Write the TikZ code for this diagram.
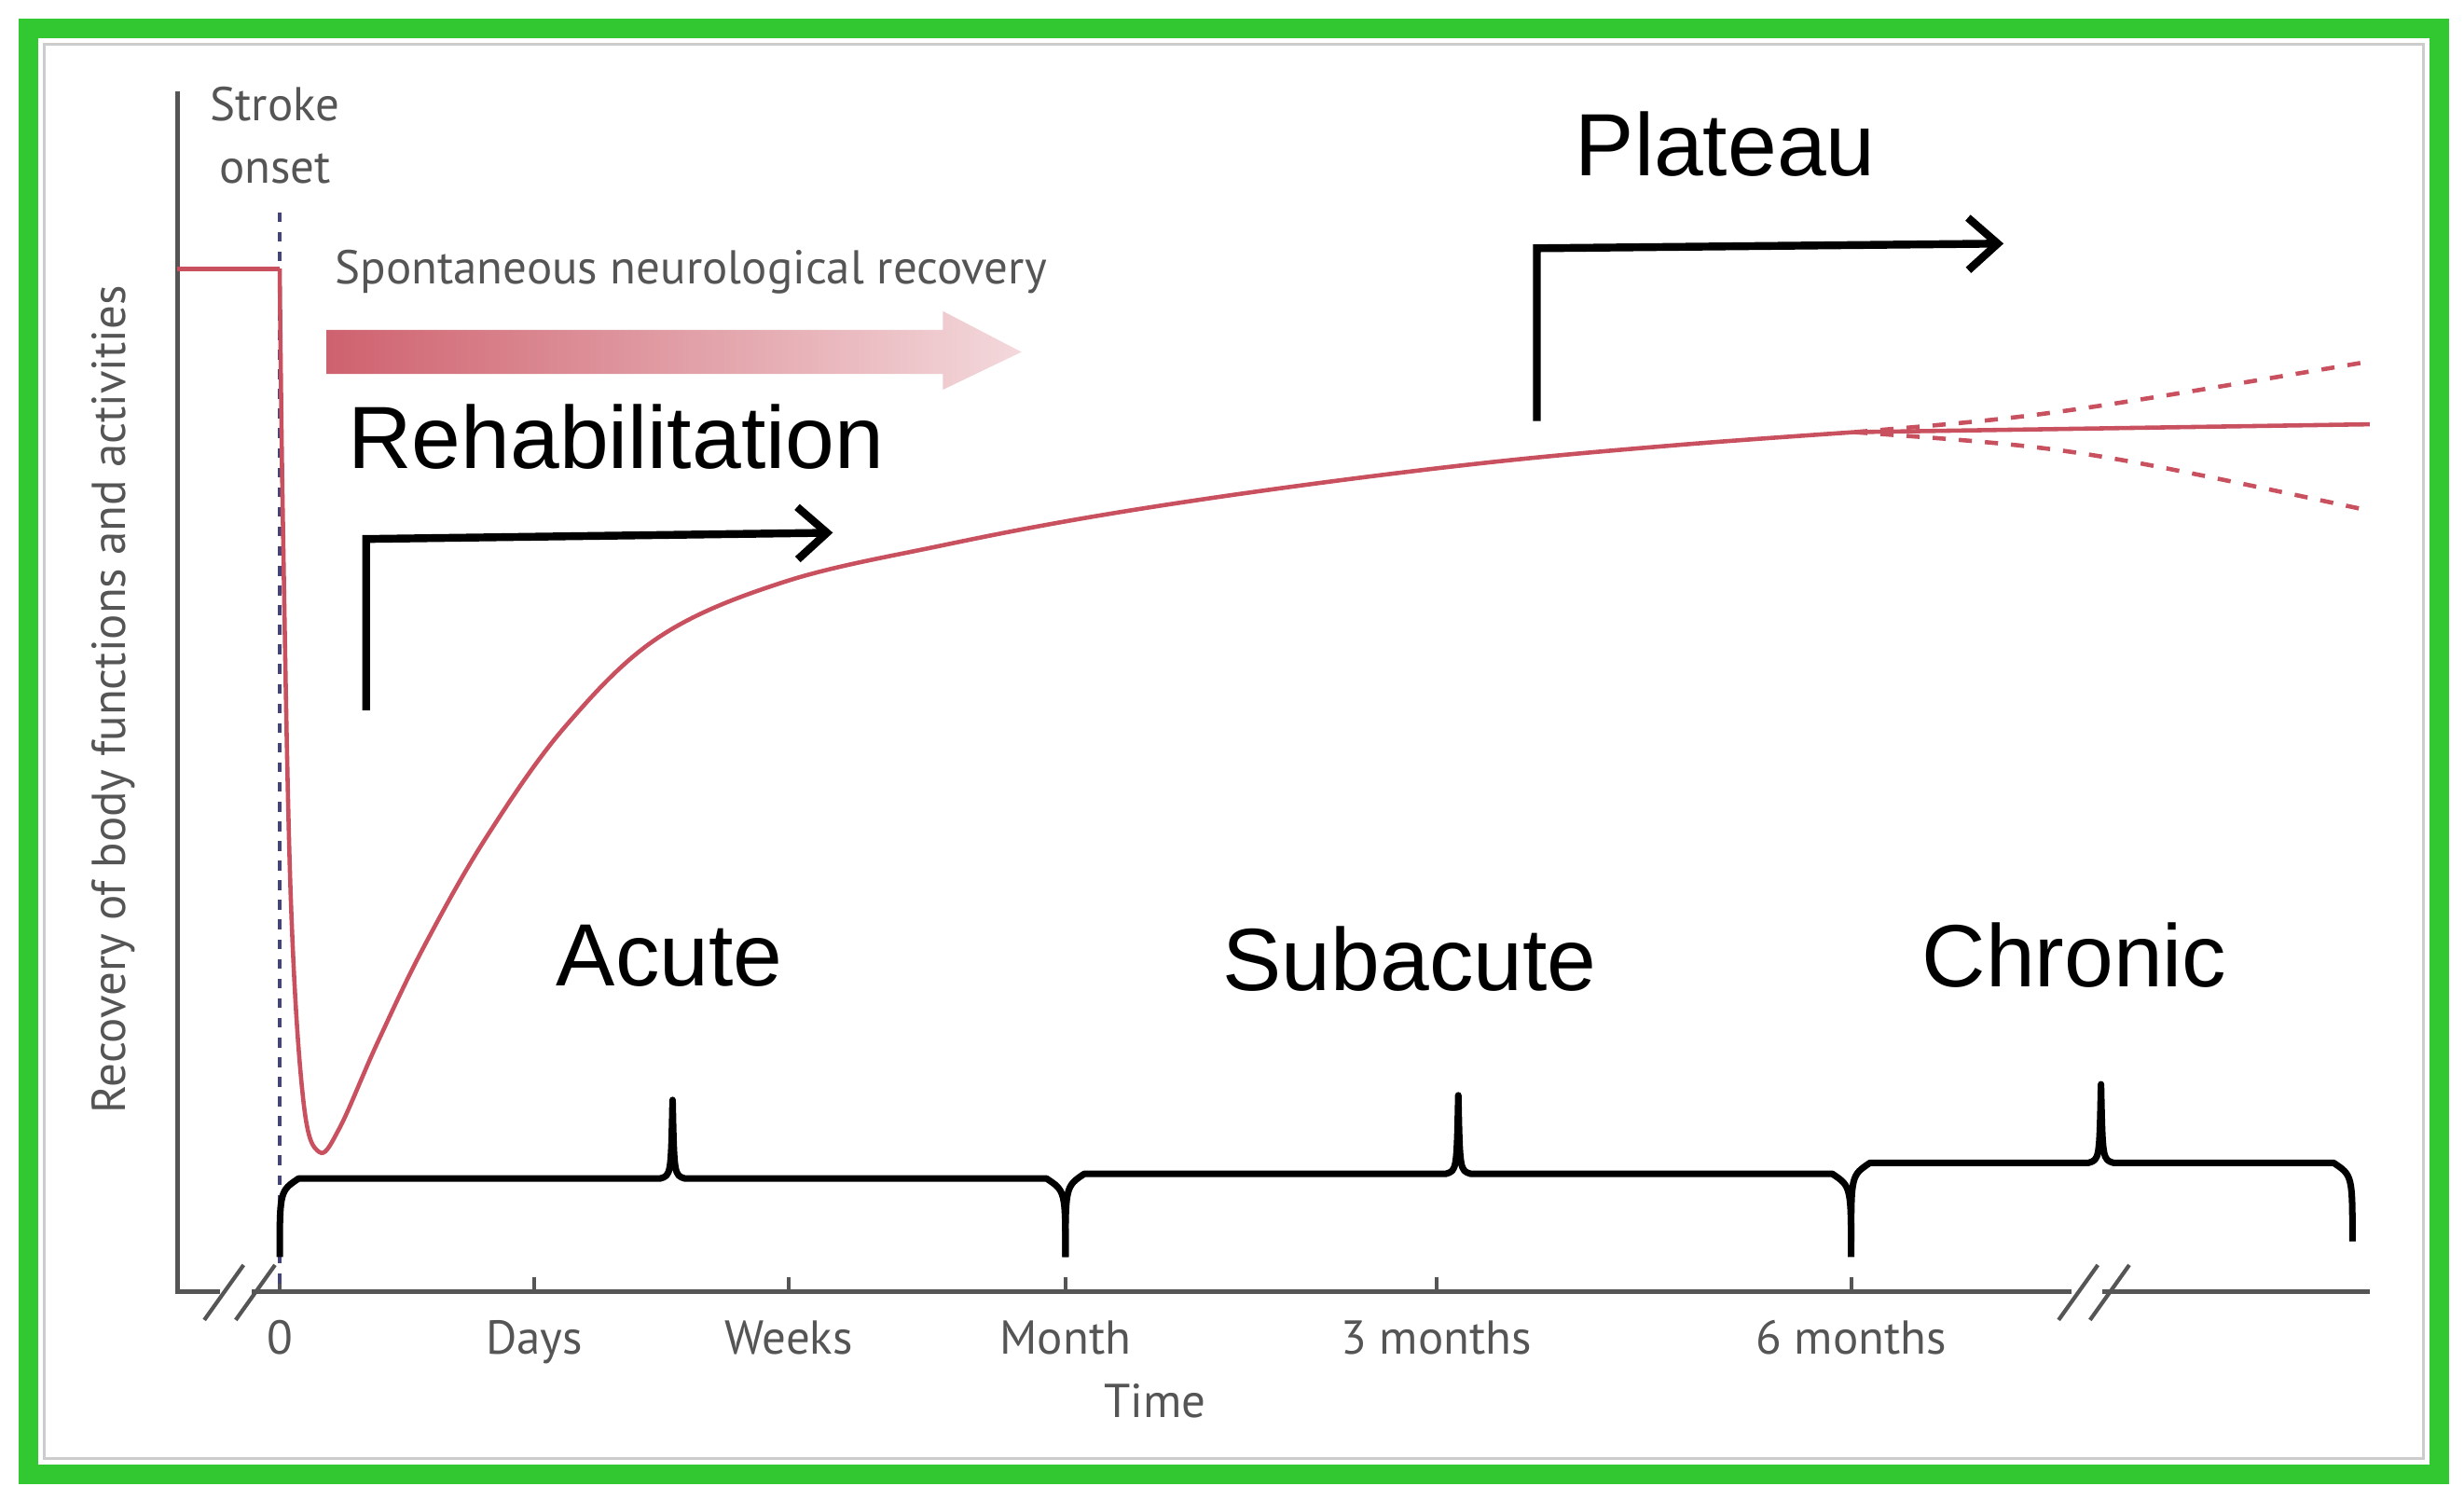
\documentclass[tikz,border=0pt]{standalone}
\usepackage{fontspec}
\setmainfont{Liberation Sans}
\newfontfamily\axf{PT Sans}
\usetikzlibrary{arrows.meta}
\definecolor{pk}{HTML}{C9505E}
\definecolor{gx}{HTML}{555555}
\begin{document}
\begin{tikzpicture}[x=0.016856cm,y=-0.016856cm,
  big/.style={font=\fontsize{27}{30}\selectfont},
  ax/.style={font=\axf\fontsize{14.5}{16}\selectfont,text=gx},
  blk/.style={line width=2.4pt,-{Straight Barb[length=9pt,width=16pt,line width=2.4pt]}},
  brc/.style={line width=2pt,line join=round},
  tick/.style={line width=1.2pt,gx}]
\useasboundingbox (0,0) rectangle (1568,954);
\fill[white] (0,0) rectangle (1568,954);
\draw[line width=6pt,color={rgb,255:red,50;green,200;blue,50}] (18,18) rectangle (1552,938);
\draw[gray!40,line width=0.8pt] (28,28) rectangle (1542,928);
% axes
\coordinate (yt) at (113,58); \coordinate (o) at (113,822); \coordinate (xe) at (1508,822);
\draw[tick] (yt) -- (o) -- (xe);
\fill[white] (140,812) rectangle (160,832);
\fill[white] (1318,812) rectangle (1338,832);
\foreach \x in {130,150,1310,1330} \draw[tick] (\x,840) -- (\x+25,805);
\foreach \x/\t in {178/0,340/Days,502/Weeks,678/Month,914/3 months,1178/6 months}{
  \draw[tick] (\x,822) -- (\x,813);
  \node[ax,anchor=base] (l\x) at (\x,862) {\t};}
\node[ax,anchor=base] (time) at (735,902) {Time};
\node[ax,rotate=90] (ylab) at (72,445) {Recovery of body functions and activities};
\node[ax,align=center,font=\axf\fontsize{14.5}{19}\selectfont] (so) at (175,86) {Stroke\\onset};
\draw[gx!80!blue,dashed,line width=1pt] (178,135) -- (178,822);
% curve
\draw[pk,line width=1.3pt] (113,171) -- (178,171);
\draw[pk,line width=1.3pt] plot[smooth,tension=0.6] coordinates{(178,171)(180,330)(185,570)(193,700)(203,733)(216,718)(240,664)(270,602)(310,532)(360,462)(420,405)(500,370)(600,347)(700,328)(820,310)(950,294)(1070,283)(1180,275)} -- (1508,270);
\draw[pk,line width=1.3pt,dash pattern=on 4pt off 4pt] (1180,275) .. controls (1300,265) .. (1508,230);
\draw[pk,line width=1.3pt,dash pattern=on 4pt off 4pt] (1180,275) .. controls (1320,285) .. (1508,325);
% gradient arrow
\shade[left color=pk!90!white,right color=pk!22!white] (208,210) -- (600,210) -- (600,198) -- (650,224) -- (600,248) -- (600,238) -- (208,238) -- cycle;
\node[ax,anchor=west] (snr) at (206,173) {Spontaneous neurological recovery};
% rehab
\node[big] (reh) at (392,278) {Rehabilitation};
\coordinate (r1) at (233,452); \coordinate (r2) at (233,343); \coordinate (r3) at (530,339);
\draw[blk] (r1) -- (r2) -- (r3);
\node[big] (pla) at (1098,92) {Plateau};
\coordinate (p1) at (978,268); \coordinate (p2) at (978,158); \coordinate (p3) at (1275,155);
\draw[blk] (p1) -- (p2) -- (p3);
% braces
\foreach \a/\m/\b/\y/\e in {178/428/678/750/800,678/928/1178/747/800,1178/1337/1497/740/790}{
  \draw[brc] (\a,\e) .. controls (\a,\y+8) .. (\a+12,\y) -- (\m-8,\y) .. controls (\m-1,\y-2) .. (\m,\y-50)
     .. controls (\m+1,\y-2) .. (\m+8,\y) -- (\b-12,\y) .. controls (\b,\y+8) .. (\b,\e);}
\node[big] (ac) at (426,608) {Acute};
\node[big] (sa) at (897,610) {Subacute};
\node[big] (ch) at (1320,608) {Chronic};
\end{tikzpicture}
\end{document}
